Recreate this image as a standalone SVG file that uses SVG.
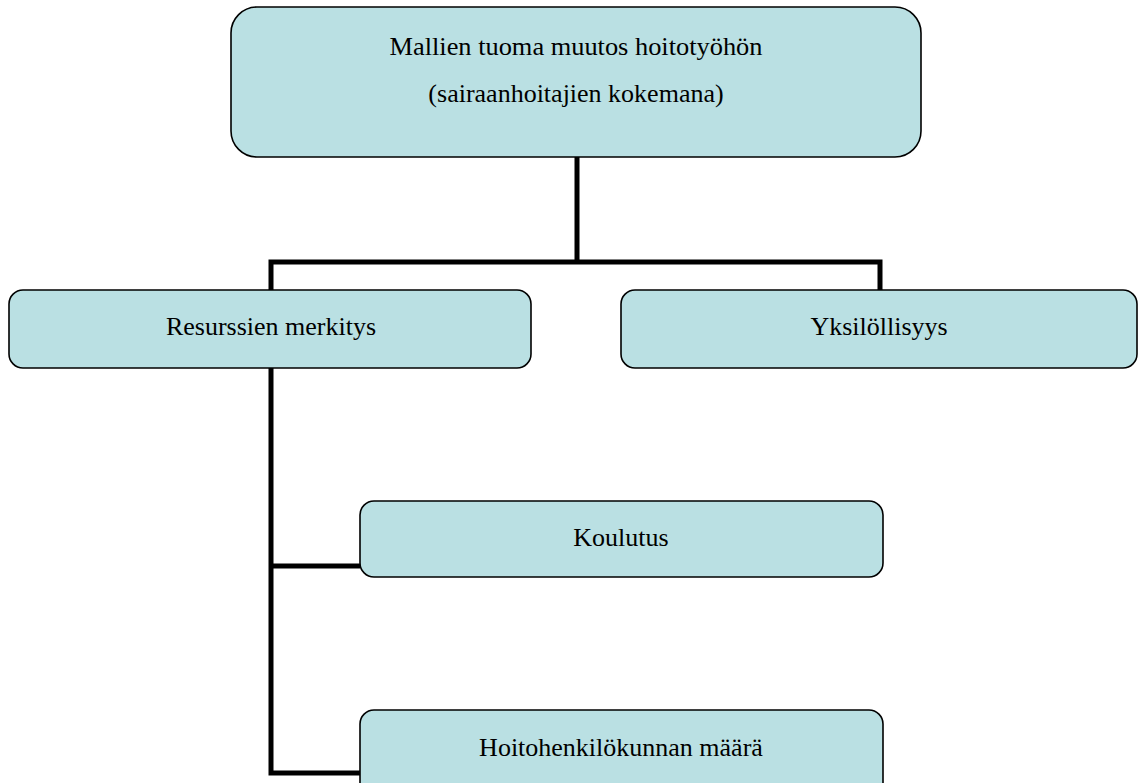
<svg xmlns="http://www.w3.org/2000/svg" width="1146" height="783" viewBox="0 0 1146 783">
<style>
.box{fill:#bae0e3;stroke:#000;stroke-width:1.6}
.t{font-family:"Liberation Serif","Times New Roman",serif;font-size:26px;fill:#000;text-anchor:middle}
.c{fill:none;stroke:#000;stroke-width:5;stroke-linejoin:miter}
</style>
<rect width="1146" height="783" fill="#fff"/>
<g id="connectors">
<path class="c" d="M577,157 V262 M271,290 V262 H880 V290"/>
<path class="c" d="M271,368 V773 H360 M271,566 H360"/>
</g>
<g id="n-root">
<rect class="box" x="231" y="7" width="690" height="150" rx="26"/>
<text class="t" x="576" y="55" textLength="373" lengthAdjust="spacingAndGlyphs">Mallien tuoma muutos hoitotyöhön</text>
<text class="t" x="576" y="102">(sairaanhoitajien kokemana)</text>
</g>
<g id="n-resurssit">
<rect class="box" x="9" y="290" width="522" height="78" rx="14"/>
<text class="t" x="271" y="335">Resurssien merkitys</text>
</g>
<g id="n-yksilo">
<rect class="box" x="621" y="290" width="516" height="78" rx="14"/>
<text class="t" x="879" y="335">Yksilöllisyys</text>
</g>
<g id="n-koulutus">
<rect class="box" x="360" y="501" width="523" height="76" rx="14"/>
<text class="t" x="621" y="546">Koulutus</text>
</g>
<g id="n-hoito">
<rect class="box" x="360" y="710" width="523" height="90" rx="14"/>
<text class="t" x="621" y="756">Hoitohenkilökunnan määrä</text>
</g>
</svg>
